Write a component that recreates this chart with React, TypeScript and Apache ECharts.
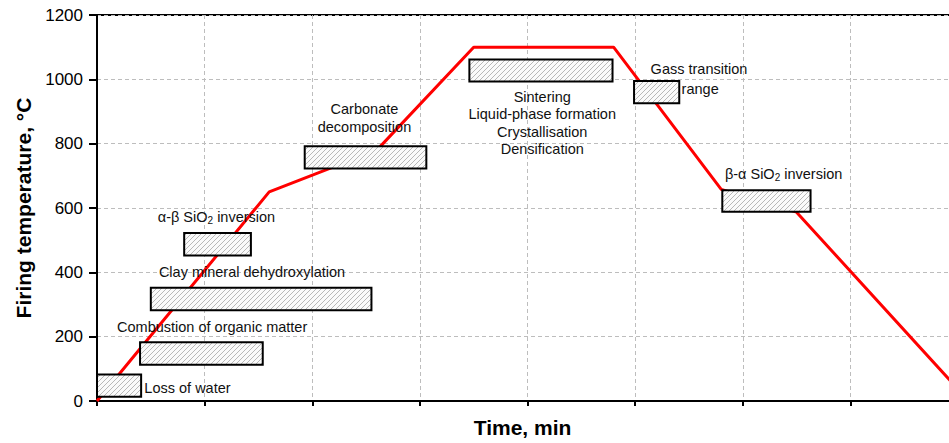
import React, { useEffect, useRef } from "react";
import * as echarts from "echarts";

// Firing curve (time in axis units, temperature in °C)
const curveTime = [0, 1.6, 2.6, 3.5, 4.8, 5.8, 6.5, 8.1];
const curveTemp = [0, 650, 780, 1100, 1100, 658, 587, 0];

// Process boxes: [timeStart, timeEnd, tempLow, tempHigh]
const boxStart = [0, 0.4, 0.5, 0.81, 1.93, 3.46, 4.99, 5.81];
const boxEnd = [0.41, 1.54, 2.55, 1.43, 3.06, 4.79, 5.41, 6.63];
const boxLow = [13, 113, 282, 452, 723, 993, 926, 588];
const boxHigh = [82, 183, 352, 522, 792, 1062, 995, 655];

// Annotation texts
const labelText = [
  "Loss of water",
  "Combustion of organic matter",
  "Clay mineral dehydroxylation",
  "α-β SiO{sub|2} inversion",
  "Carbonate\ndecomposition",
  "Sintering\nLiquid-phase formation\nCrystallisation\nDensification",
  "Gass transition",
  "range",
  "β-α SiO{sub|2} inversion",
];
const labelTime = [0.44, 1.07, 1.44, 1.11, 2.485, 4.137, 5.144, 5.432, 5.834];
const labelTemp = [41, 231, 401, 572, 880, 864, 1031, 971, 707];
const labelAlign = ["left", "center", "center", "center", "center", "center", "left", "left", "left"];

const yTicks = [0, 200, 400, 600, 800, 1000, 1200];

const FONT = '"Liberation Sans", Arial, Helvetica, sans-serif';

function makeHatch(): string {
  const c = document.createElement("canvas");
  c.width = 5;
  c.height = 5;
  const g = c.getContext("2d");
  if (!g) return "";
  g.fillStyle = "#fafafa";
  g.fillRect(0, 0, 5, 5);
  g.strokeStyle = "#b0b0b0";
  g.lineWidth = 0.9;
  g.beginPath();
  g.moveTo(-1, 6);
  g.lineTo(6, -1);
  g.moveTo(-1, 1);
  g.lineTo(1, -1);
  g.moveTo(4, 6);
  g.lineTo(6, 4);
  g.stroke();
  return c.toDataURL();
}

export default function App() {
  const ref = useRef<HTMLDivElement>(null);
  useEffect(() => {
    if (!ref.current) return;
    const chart = echarts.init(ref.current, undefined, { renderer: "svg" });
    const hatch = makeHatch();
    const boxData = boxStart.map((s, i) => [s, boxEnd[i], boxLow[i], boxHigh[i]]);
    const labelData = labelTime.map((t, i) => [t, labelTemp[i]]);
    chart.setOption({
      animation: false,
      backgroundColor: "#ffffff",
      grid: {
        left: 97,
        top: 15,
        bottom: 39,
        right: 2,
        show: true,
        borderColor: "#000",
        borderWidth: 2,
      },
      xAxis: {
        type: "value",
        min: 0,
        max: 8,
        interval: 1,
        name: "Time, min",
        nameLocation: "middle",
        nameGap: 16,
        nameTextStyle: { fontFamily: FONT, fontWeight: "bold", fontSize: 21, color: "#000", padding: [0, 10, 0, 0] },
        axisLine: { show: true, lineStyle: { color: "#000", width: 2 } },
        axisTick: { show: true, length: 5, lineStyle: { color: "#000", width: 2 } },
        axisLabel: { show: false },
        splitLine: { show: true, lineStyle: { color: "#bdbdbd", type: [4, 3], width: 1 } },
      },
      yAxis: {
        type: "value",
        min: yTicks[0],
        max: yTicks[yTicks.length - 1],
        interval: 200,
        name: "Firing temperature, °C",
        nameLocation: "middle",
        nameGap: 62,
        nameTextStyle: { fontFamily: FONT, fontWeight: "bold", fontSize: 21, color: "#000" },
        axisLine: { show: true, lineStyle: { color: "#000", width: 2 } },
        axisTick: { show: true, length: 8, lineStyle: { color: "#000", width: 2 } },
        axisLabel: {
          fontFamily: FONT,
          fontSize: 17,
          color: "#000",
          margin: 14,
          formatter: (v: number) => String(v),
        },
        splitLine: { show: true, lineStyle: { color: "#bdbdbd", type: [4, 3], width: 1 } },
      },
      series: [
        {
          type: "line",
          data: curveTime.map((t, i) => [t, curveTemp[i]]),
          symbol: "none",
          z: 2,
          lineStyle: { color: "#ff0000", width: 3 },
        },
        {
          type: "custom",
          z: 3,
          data: boxData,
          renderItem: (params: any, api: any) => {
            const p0 = api.coord([api.value(0), api.value(3)]);
            const p1 = api.coord([api.value(1), api.value(2)]);
            return {
              type: "rect",
              shape: { x: p0[0], y: p0[1], width: p1[0] - p0[0], height: p1[1] - p0[1] },
              style: {
                fill: { image: hatch, repeat: "repeat" },
                stroke: "#000",
                lineWidth: 2,
              },
            };
          },
        },
        {
          type: "custom",
          z: 4,
          data: labelData,
          renderItem: (params: any, api: any) => {
            const i = params.dataIndex;
            const p = api.coord([api.value(0), api.value(1)]);
            return {
              type: "text",
              x: p[0],
              y: p[1],
              style: {
                text: labelText[i],
                fontFamily: FONT,
                fontSize: 14.5,
                fill: "#111",
                align: labelAlign[i],
                verticalAlign: "middle",
                lineHeight: 17.5,
                rich: {
                  sub: { fontSize: 10, fontFamily: FONT, fill: "#111", verticalAlign: "bottom", lineHeight: 17.5, padding: [6, 0, 0, 0] },
                },
              },
            };
          },
        },
      ],
    });
    return () => chart.dispose();
  }, []);
  return (
    <div style={{ position: "fixed", left: 0, top: 0, width: 949, height: 443, overflow: "hidden" }}>
      <div ref={ref} style={{ width: 960, height: 443 }} />
    </div>
  );
}
